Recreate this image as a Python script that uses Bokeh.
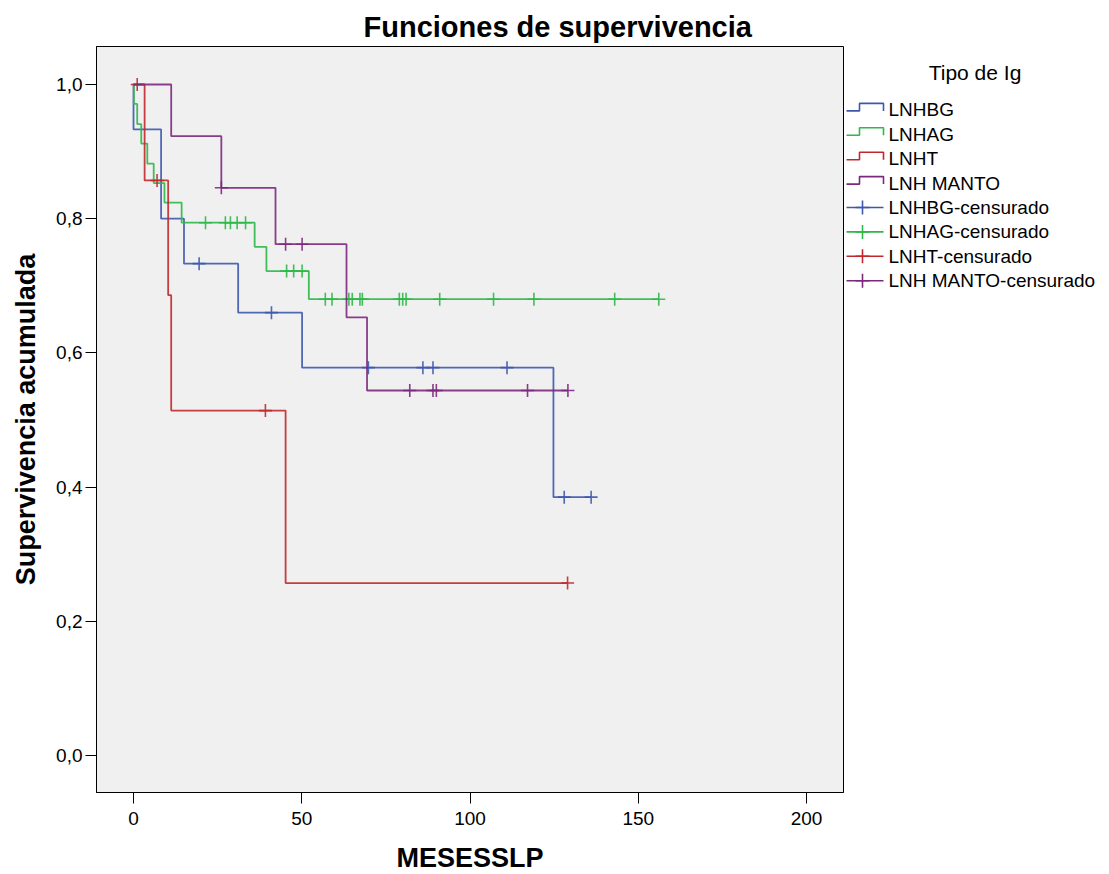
from bokeh.plotting import figure
from bokeh.models import Range1d, FixedTicker
from bokeh.layouts import row
from bokeh.embed import file_html
from bokeh.resources import INLINE
from bokeh.core.properties import value

# ---------------- data ----------------
series_names = ["LNHBG", "LNHAG", "LNHT", "LNH MANTO"]
series_colors = ["#3E58AC", "#2EB848", "#C0282D", "#7C287D"]

lnhbg_t = [0, 0, 8.2, 15.0, 31.1, 50.1, 124.8, 136.0]
lnhbg_s = [1.0, 0.933, 0.800, 0.733, 0.660, 0.578, 0.385, 0.385]
lnhbg_cens_t = [19.5, 41.0, 69.8, 86.0, 89.0, 111.0, 128.0, 136.0]
lnhbg_cens_s = [0.733, 0.660, 0.578, 0.578, 0.578, 0.578, 0.385, 0.385]

lnhag_t = [0, 0.1, 1.1, 2.3, 4.1, 6.0, 9.2, 14.3, 36.0, 39.5, 52.1, 156.1]
lnhag_s = [1.0, 0.971, 0.941, 0.912, 0.882, 0.853, 0.824, 0.794, 0.758, 0.722, 0.680, 0.680]
lnhag_cens_t = [21.4, 27.3, 28.8, 30.8, 33.3, 45.5, 47.6, 50.1,
                57.0, 59.0, 64.0, 65.0, 67.3, 68.0, 79.0, 80.0, 81.0,
                91.0, 107.0, 119.0, 143.0, 156.1]
lnhag_cens_s = [0.794, 0.794, 0.794, 0.794, 0.794, 0.722, 0.722, 0.722,
                0.680, 0.680, 0.680, 0.680, 0.680, 0.680, 0.680, 0.680, 0.680,
                0.680, 0.680, 0.680, 0.680, 0.680]

lnht_t = [0, 3.3, 10.3, 11.2, 45.2, 129.0]
lnht_s = [1.0, 0.857, 0.686, 0.514, 0.257, 0.257]
lnht_cens_t = [1.1, 7.0, 39.2, 129.0]
lnht_cens_s = [1.0, 0.857, 0.514, 0.257]

manto_t = [0, 11.2, 26.1, 42.2, 63.3, 69.4, 129.1]
manto_s = [1.0, 0.923, 0.846, 0.762, 0.653, 0.544, 0.544]
manto_cens_t = [26.1, 45.2, 50.1, 82.1, 89.0, 90.0, 117.1, 129.1]
manto_cens_s = [0.846, 0.762, 0.762, 0.544, 0.544, 0.544, 0.544, 0.544]

x_ticks = [0, 50, 100, 150, 200]
y_ticks = [0.0, 0.2, 0.4, 0.6, 0.8, 1.0]
y_tick_labels = ["0,0", "0,2", "0,4", "0,6", "0,8", "1,0"]

title_text = "Funciones de supervivencia"
x_label = "MESESSLP"
y_label = "Supervivencia acumulada"
legend_title = "Tipo de Ig"

steps = [(lnhbg_t, lnhbg_s), (lnhag_t, lnhag_s), (lnht_t, lnht_s), (manto_t, manto_s)]
cens = [(lnhbg_cens_t, lnhbg_cens_s), (lnhag_cens_t, lnhag_cens_s),
        (lnht_cens_t, lnht_cens_s), (manto_cens_t, manto_cens_s)]

FONT = value("Liberation Sans")

# ---------------- main plot ----------------
p = figure(frame_width=747, frame_height=746,
           x_range=Range1d(-11.0, 211.0), y_range=Range1d(-0.0551, 1.0566),
           toolbar_location=None, output_backend="svg",
           min_border_left=96, min_border_right=2, min_border_top=46, min_border_bottom=74,
           background_fill_color="#F0F0F0", border_fill_color="white")
p.grid.visible = False
p.outline_line_color = "black"
p.outline_line_width = 1

p.title.text = title_text
p.title.text_font = "Liberation Sans"
p.title.text_font_style = "bold"
p.title.text_font_size = "29px"
p.title.text_color = "black"
p.title.align = "left"
p.title.offset = 267
p.title.standoff = 8

for ax in (p.xaxis[0], p.yaxis[0]):
    ax.axis_line_color = "black"
    ax.major_tick_line_color = "black"
    ax.major_tick_out = 11
    ax.major_tick_in = 0
    ax.minor_tick_line_color = None
    ax.major_label_text_font = "Liberation Sans"
    ax.major_label_text_font_size = "19px"
    ax.major_label_text_color = "black"
    ax.axis_label_text_font = "Liberation Sans"
    ax.axis_label_text_font_style = "bold"
    ax.axis_label_text_font_size = "27px"
    ax.axis_label_text_color = "black"

p.xaxis.ticker = FixedTicker(ticks=x_ticks)
p.yaxis.ticker = FixedTicker(ticks=y_ticks)
p.yaxis.major_label_overrides = dict(zip(y_ticks, y_tick_labels))
p.xaxis.axis_label = x_label
p.yaxis.axis_label = y_label
p.xaxis.major_label_standoff = 8
p.yaxis.major_label_standoff = 3
p.xaxis.axis_label_standoff = 15
p.yaxis.axis_label_standoff = 12

for (t, s), (ct, cs), col in zip(steps, cens, series_colors):
    p.step(t, s, mode="after", line_color=col, line_width=1.8, line_alpha=0.9)
    p.scatter(ct, cs, marker="cross", size=13, line_color=col, line_width=1.6, line_alpha=0.9)

# ---------------- legend panel (frame aligned with the main frame: page y 46..792) ----------------
LW = 256
leg = figure(frame_width=LW, frame_height=746, x_range=Range1d(0, LW), y_range=Range1d(792, 46),
             title=None, toolbar_location=None, output_backend="svg",
             x_axis_type=None, y_axis_type=None, min_border=0,
             background_fill_color="white", border_fill_color="white")
leg.grid.visible = False
leg.outline_line_color = None

leg.text(x=[129.5], y=[71.7], text=[legend_title], text_font=FONT, text_font_size="21px",
         text_align="center", text_baseline="middle", text_color="black")

row_y0, row_dy = 109.4, 24.4
labels = series_names + [n + "-censurado" for n in series_names]
ys_centers = [row_y0 + i * row_dy for i in range(len(labels))]

step_xs, step_ys = [], []
for i in range(4):
    c = ys_centers[i]
    step_xs.append([1, 14, 14, 38, 38])
    step_ys.append([c + 1, c + 1, c - 6.5, c - 6.5, c + 1])
leg.multi_line(step_xs, step_ys, line_color=series_colors, line_width=1.6)

cen_c = ys_centers[4:]
leg.multi_line([[1, 38]] * 4, [[c, c] for c in cen_c], line_color=series_colors, line_width=1.6)
leg.scatter([17] * 4, cen_c, marker="cross", size=14, line_color=series_colors, line_width=1.6)

leg.text(x=[43] * len(labels), y=ys_centers, text=labels, text_font=FONT, text_font_size="19px",
         text_align="left", text_baseline="middle", text_color="black")

layout = row(p, leg)
open("out.html", "w").write(file_html(layout, INLINE))
